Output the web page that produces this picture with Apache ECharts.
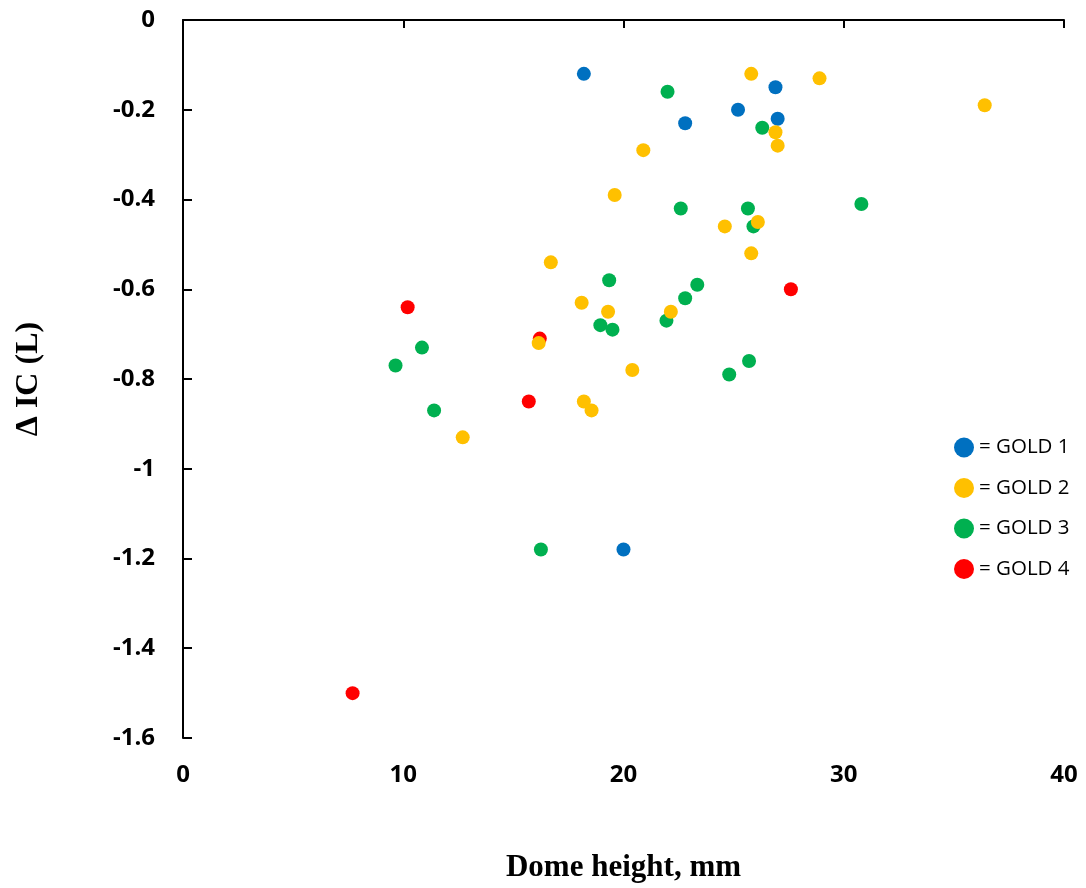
<!DOCTYPE html>
<html>
<head>
<meta charset="utf-8">
<script src="https://cdn.jsdelivr.net/npm/echarts@6/dist/echarts.min.js"></script>
<style>html,body{margin:0;padding:0;background:#fff}#c{width:1086px;height:888px}</style>
</head>
<body>
<div id="c"></div>
<script>
const seriesNames = ['GOLD 1', 'GOLD 2', 'GOLD 3', 'GOLD 4'];
const seriesColors = ['#0070C0', '#FFC000', '#00B050', '#FF0000'];
const gold1 = [[18.2,-0.12],[26.9,-0.15],[25.2,-0.20],[22.8,-0.23],[27.0,-0.22],[20.0,-1.18]];
const gold2 = [[25.8,-0.12],[28.9,-0.13],[36.4,-0.19],[26.9,-0.25],[27.0,-0.28],[20.9,-0.29],[19.6,-0.39],[24.6,-0.46],[26.1,-0.45],[25.8,-0.52],[16.7,-0.54],[18.1,-0.63],[19.3,-0.65],[22.15,-0.65],[16.15,-0.72],[20.4,-0.78],[18.2,-0.85],[18.55,-0.87],[12.7,-0.93]];
const gold3 = [[22.0,-0.16],[26.3,-0.24],[30.8,-0.41],[22.6,-0.42],[25.65,-0.42],[25.9,-0.46],[19.35,-0.58],[23.35,-0.59],[22.8,-0.62],[21.95,-0.67],[18.95,-0.68],[19.5,-0.69],[10.85,-0.73],[9.65,-0.77],[25.7,-0.76],[24.8,-0.79],[11.4,-0.87],[16.25,-1.18]];
const gold4 = [[10.2,-0.64],[16.2,-0.71],[15.7,-0.85],[27.6,-0.60],[7.7,-1.50]];
const xTicks = [0, 10, 20, 30, 40];
const yTicks = [0, -0.2, -0.4, -0.6, -0.8, -1, -1.2, -1.4, -1.6];
const xTitle = 'Dome height, mm';
const yTitle = 'Δ IC (L)';

const data = [gold1, gold2, gold3, gold4];
const zOrder = [2, 4, 2, 3];
const chart = echarts.init(document.getElementById('c'), null, {renderer: 'canvas'});
const tickFont = {fontFamily: 'Open Sans', fontWeight: 'bold', fontSize: 24, color: '#000'};
chart.setOption({
  animation: false,
  backgroundColor: '#fff',
  grid: {left: 183, right: 22, top: 20, bottom: 147, containLabel: false},
  legend: {
    orient: 'vertical', left: 949, top: 432,
    icon: 'circle', itemWidth: 20, itemHeight: 20, itemGap: 19.5,
    data: seriesNames,
    formatter: n => '= ' + n,
    textStyle: {fontFamily: 'Open Sans', fontSize: 20.5, color: '#000'}
  },
  xAxis: [
    {type: 'value', min: xTicks[0], max: xTicks[xTicks.length - 1], interval: 10, position: 'top',
     axisLine: {show: true, onZero: false, lineStyle: {color: '#000', width: 2}},
     axisTick: {show: true, inside: true, length: 8, lineStyle: {color: '#000', width: 2}},
     axisLabel: {show: false}, splitLine: {show: false}},
    {type: 'value', min: xTicks[0], max: xTicks[xTicks.length - 1], interval: 10, position: 'bottom',
     axisLine: {show: false}, axisTick: {show: false},
     axisLabel: Object.assign({margin: 25}, tickFont), splitLine: {show: false},
     name: xTitle, nameLocation: 'middle', nameGap: 114,
     nameTextStyle: {fontFamily: 'Liberation Serif', fontWeight: 'bold', fontSize: 31, color: '#000'}}
  ],
  yAxis: {
    type: 'value', min: yTicks[yTicks.length - 1], max: yTicks[0], interval: 0.2,
    axisLine: {show: true, onZero: false, lineStyle: {color: '#000', width: 2}},
    axisTick: {show: true, inside: true, length: 9, lineStyle: {color: '#000', width: 2}},
    axisLabel: Object.assign({margin: 28, formatter: v => String(Math.round(v * 10) / 10)}, tickFont),
    splitLine: {show: false},
    name: yTitle, nameLocation: 'middle', nameGap: 138, nameRotate: 90,
    nameTextStyle: {fontFamily: 'Liberation Serif', fontWeight: 'bold', fontSize: 32, color: '#000'}
  },
  series: data.map((d, i) => ({
    name: seriesNames[i], type: 'scatter', xAxisIndex: 0, data: d,
    symbol: 'circle', symbolSize: 14, z: zOrder[i],
    itemStyle: {color: seriesColors[i], opacity: 1}
  }))
});
</script>
</body>
</html>
